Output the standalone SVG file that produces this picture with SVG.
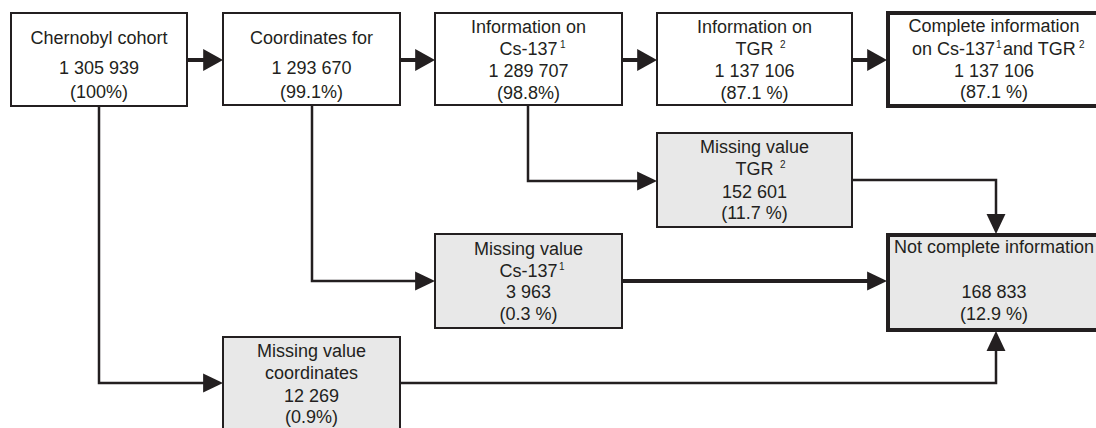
<svg xmlns="http://www.w3.org/2000/svg" width="1096" height="428" viewBox="0 0 1096 428">
<style>
.box{fill:#ffffff;stroke:#231f20;stroke-width:2}
.gray{fill:#e8e8e8}
.bold{stroke-width:4}
text{font-family:"Liberation Sans",Arial,sans-serif;font-size:18px;fill:#231f20;text-anchor:middle}
text.sup{font-size:10px;text-anchor:start}
text.end{text-anchor:end}
text.start{text-anchor:start}
.c{fill:none;stroke:#231f20;stroke-width:2.5}
.ct{fill:none;stroke:#231f20;stroke-width:4}
</style>
<defs>
<marker id="big" markerUnits="userSpaceOnUse" markerWidth="20" markerHeight="22" viewBox="0 0 18 20" refX="8" refY="10" orient="auto">
<path d="M0,0 L18,10 L0,20 z" fill="#231f20"/>
</marker>
<marker id="small" markerUnits="userSpaceOnUse" markerWidth="20" markerHeight="20" viewBox="0 0 18 17" refX="8" refY="8.5" orient="auto">
<path d="M0,0 L18,8.5 L0,17 z" fill="#231f20"/>
</marker>
</defs>
<rect width="1096" height="428" fill="#ffffff"/>
<g id="connectors">
<path class="ct" d="M188,60 H212" marker-end="url(#big)"/>
<path class="ct" d="M401,60 H424" marker-end="url(#big)"/>
<path class="ct" d="M623,60 H646" marker-end="url(#big)"/>
<path class="ct" d="M853,60 H876" marker-end="url(#big)"/>
<path class="c" d="M99,107 V383 H212" marker-end="url(#small)"/>
<path class="c" d="M312,106 V281 H424" marker-end="url(#small)"/>
<path class="c" d="M528,106 V181 H646" marker-end="url(#small)"/>
<path class="c" d="M853,180 H996 V223" marker-end="url(#small)"/>
<path class="ct" d="M623,281 H876" marker-end="url(#small)"/>
<path class="c" d="M401,383 H996 V342" marker-end="url(#small)"/>
</g>
<g id="cohort">
<rect class="box" x="11" y="13" width="176" height="93"/>
<text x="99" y="44">Chernobyl cohort</text>
<text x="99" y="74">1 305 939</text>
<text x="99" y="98">(100%)</text>
</g>
<g id="coordinates">
<rect class="box" x="223" y="13" width="177" height="92"/>
<text x="311.5" y="44">Coordinates for</text>
<text x="311.5" y="74">1 293 670</text>
<text x="311.5" y="98">(99.1%)</text>
</g>
<g id="info-cs">
<rect class="box" x="435" y="13" width="187" height="92"/>
<text x="528.5" y="33">Information on</text>
<text x="528.5" y="55">Cs-137</text>
<text class="sup" x="560" y="48">1</text>
<text x="528.5" y="77">1 289 707</text>
<text x="528.5" y="99">(98.8%)</text>
</g>
<g id="info-tgr">
<rect class="box" x="657" y="13" width="195" height="92"/>
<text x="754.5" y="33">Information on</text>
<text x="754.5" y="55">TGR</text>
<text class="sup" x="780" y="48">2</text>
<text x="754.5" y="77">1 137 106</text>
<text x="754.5" y="99">(87.1 %)</text>
</g>
<g id="complete">
<rect class="box bold" x="888" y="13" width="216" height="93"/>
<text x="994" y="32">Complete information</text>
<text class="end" x="995" y="55">on Cs-137</text>
<text class="sup" x="996" y="48">1</text>
<text class="start" x="1003" y="55">and TGR</text>
<text class="sup" x="1079" y="48">2</text>
<text x="994" y="77">1 137 106</text>
<text x="994" y="98">(87.1 %)</text>
</g>
<g id="missing-tgr">
<rect class="box gray" x="657" y="133" width="195" height="94"/>
<text x="754.5" y="153">Missing value</text>
<text x="754.5" y="175">TGR</text>
<text class="sup" x="780" y="168">2</text>
<text x="754.5" y="198">152 601</text>
<text x="754.5" y="219">(11.7 %)</text>
</g>
<g id="missing-cs">
<rect class="box gray" x="435" y="234" width="187" height="94"/>
<text x="528.5" y="255">Missing value</text>
<text x="528.5" y="277">Cs-137</text>
<text class="sup" x="559" y="270">1</text>
<text x="528.5" y="298">3 963</text>
<text x="528.5" y="320">(0.3 %)</text>
</g>
<g id="not-complete">
<rect class="box gray bold" x="888" y="235" width="216" height="95"/>
<text x="994" y="253">Not complete information</text>
<text x="994" y="298">168 833</text>
<text x="994" y="320">(12.9 %)</text>
</g>
<g id="missing-coordinates">
<rect class="box gray" x="223" y="337" width="177" height="100"/>
<text x="311.5" y="357">Missing value</text>
<text x="311.5" y="379">coordinates</text>
<text x="311.5" y="402">12 269</text>
<text x="311.5" y="423">(0.9%)</text>
</g>
</svg>
